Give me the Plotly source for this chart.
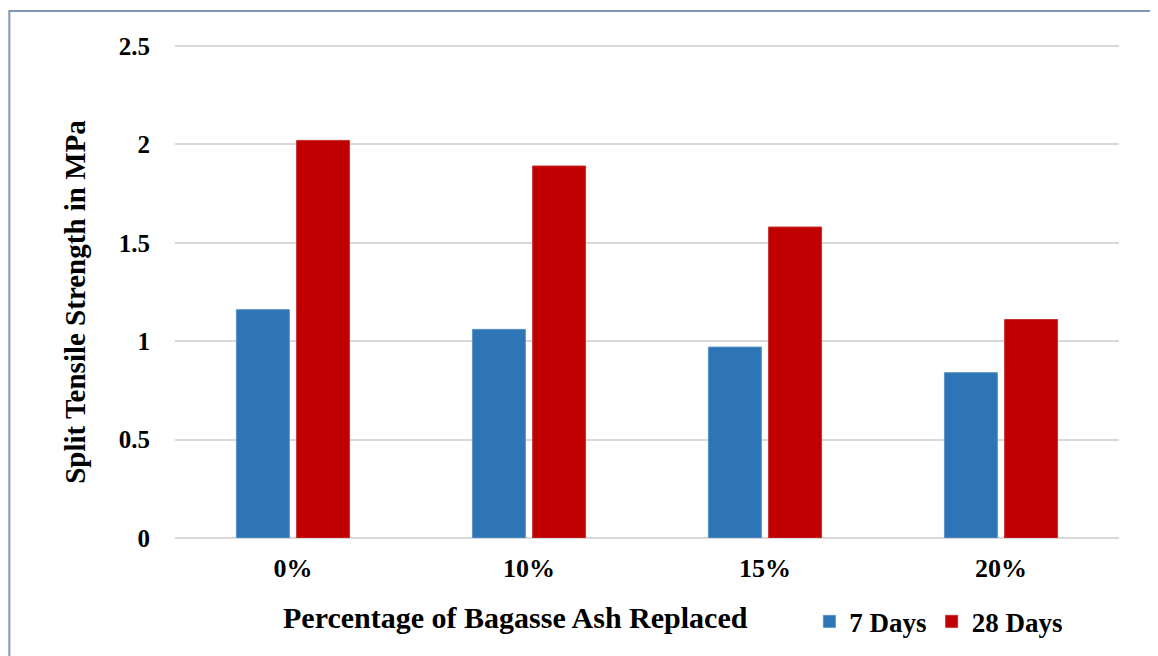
import plotly.graph_objects as go

categories = ['0%', '10%', '15%', '20%']
days_7 = [1.16, 1.06, 0.97, 0.84]
days_28 = [2.02, 1.89, 1.58, 1.11]

FONT = 'Liberation Serif'

fig = go.Figure()
fig.add_trace(go.Bar(x=categories, y=days_7, name='<b>7 Days</b>',
                     marker=dict(color='#2e75b6', line=dict(color='#5b93c9', width=1))))
fig.add_trace(go.Bar(x=categories, y=days_28, name='<b>28 Days</b>',
                     marker=dict(color='#c00000', line=dict(color='#c83030', width=1))))

# the page body adds an 8px offset, margins account for it
fig.update_layout(
    width=1158, height=656,
    paper_bgcolor='white', plot_bgcolor='white',
    margin=dict(l=167, r=47, t=34, b=126),
    barmode='group', bargap=0.49, bargroupgap=0.12,
    font=dict(family=FONT, color='black'),
    showlegend=True,
    legend=dict(orientation='h', x=0.672, xanchor='left', y=-0.169, yanchor='middle',
                font=dict(size=27, family=FONT, color='black'),
                itemwidth=30, tracegroupgap=0, bgcolor='rgba(0,0,0,0)'),
    xaxis=dict(showgrid=False, showline=False, ticks='',
               tickfont=dict(size=26, family=FONT, color='black'),
               ticklabelstandoff=12,
               tickvals=categories,
               ticktext=['<b>%s</b>' % c for c in categories]),
    yaxis=dict(range=[0, 2.52], showgrid=True, gridcolor='#d9d9d9', gridwidth=1.5,
               zeroline=True, zerolinecolor='#d9d9d9', zerolinewidth=1.5,
               showline=False, ticks='',
               tickvals=[0, 0.5, 1, 1.5, 2, 2.5],
               ticktext=['<b>0</b>', '<b>0.5</b>', '<b>1</b>', '<b>1.5</b>', '<b>2</b>', '<b>2.5</b>'],
               tickfont=dict(size=25, family=FONT, color='black'),
               ticklabelstandoff=24),
    annotations=[
        dict(text='<b>Percentage of Bagasse Ash Replaced</b>', xref='paper', yref='paper',
             x=0.361, y=-0.161, xanchor='center', yanchor='middle', showarrow=False,
             font=dict(size=30, family=FONT, color='black')),
        dict(text='<b>Split Tensile Strength in MPa</b>', xref='paper', yref='paper',
             x=-0.106, y=0.476, xanchor='center', yanchor='middle', showarrow=False,
             textangle=-90, font=dict(size=29, family=FONT, color='black')),
    ],
    shapes=[
        dict(type='rect', xref='paper', yref='paper', x0=-0.1755, x1=1.2, y0=-0.4, y1=1.0625,
             line=dict(color='#8096b8', width=2), fillcolor='rgba(0,0,0,0)', layer='below'),
    ],
)

fig.write_html('out.html')
